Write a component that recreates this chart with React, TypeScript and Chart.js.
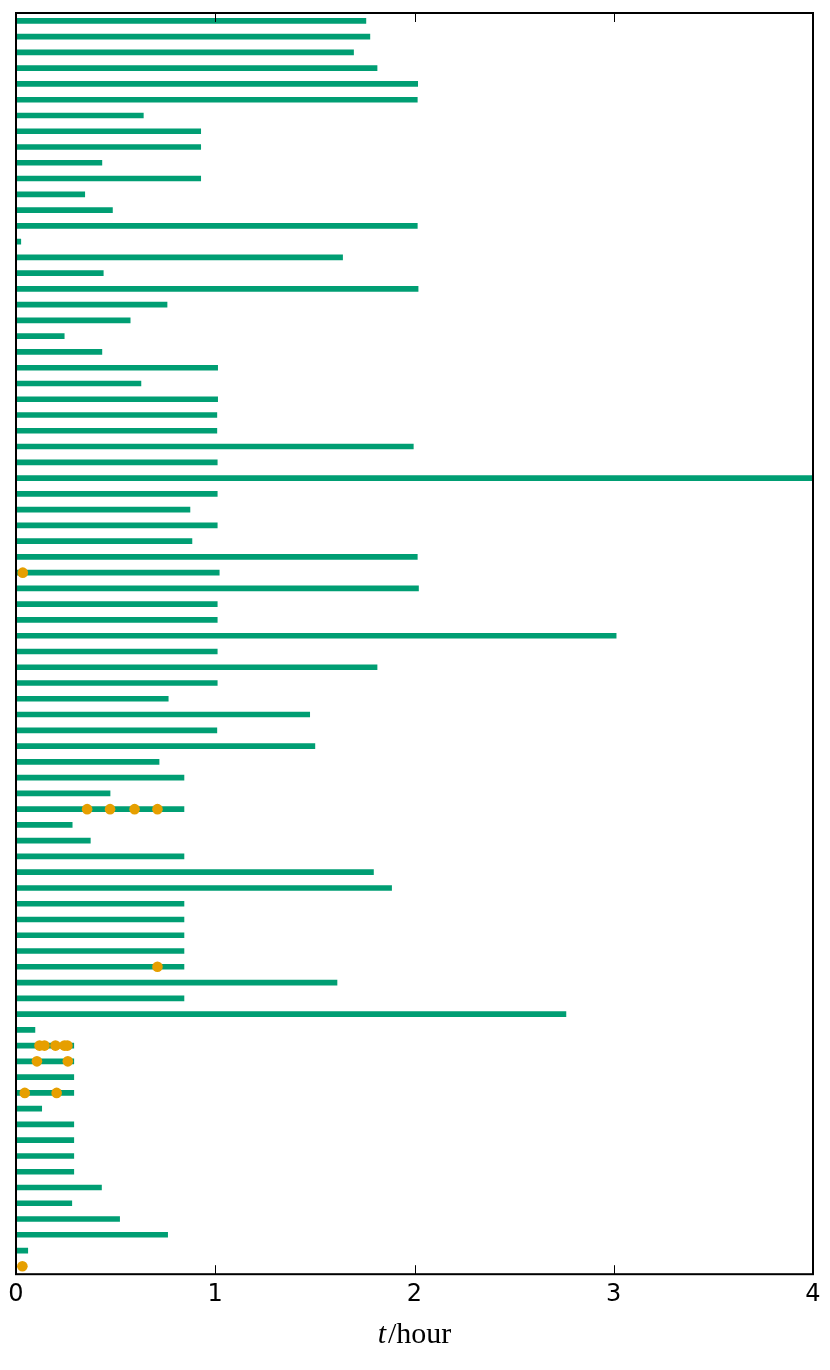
import { useEffect, useRef } from "react";
import { Chart, registerables } from "chart.js";

Chart.register(...registerables);

// Duration of each row (hours), top row first
const durations = [
  1.756, 1.776, 1.694, 1.812, 2.016, 2.014, 0.639,
  0.927, 0.927, 0.431, 0.927, 0.345, 0.484, 2.014,
  0.024, 1.639, 0.438, 2.018, 0.758, 0.573, 0.242,
  0.431, 1.012, 0.627, 1.012, 1.008, 1.008, 1.994,
  1.01, 4.0, 1.01, 0.873, 1.01, 0.883, 2.014,
  1.02, 2.02, 1.01, 1.01, 3.012, 1.01, 1.812,
  1.01, 0.764, 1.474, 1.008, 1.5, 0.718, 0.843,
  0.472, 0.843, 0.282, 0.373, 0.843, 1.794, 1.885,
  0.843, 0.843, 0.843, 0.843, 0.843, 1.611, 0.843,
  2.76, 0.095, 0.29, 0.29, 0.29, 0.29, 0.129,
  0.29, 0.29, 0.29, 0.29, 0.429, 0.28, 0.52,
  0.761, 0.059, 0,
];

// Events (orange dots): row index and time (hours)
const eventRows = [35, 50, 50, 50, 50, 60, 65, 65, 65, 65, 65, 66, 66, 68, 68, 79];
const eventTimes = [
  0.034, 0.357, 0.472, 0.595, 0.71, 0.71, 0.118, 0.143, 0.198, 0.243, 0.258,
  0.105, 0.26, 0.044, 0.204, 0.032,
];

const xTicks = [0, 1, 2, 3, 4];
const titleItalic = "t";
const titleRest = "/hour";

const W = 830;
const H = 1370;

export default function App() {
  const ref = useRef<HTMLCanvasElement>(null);

  useEffect(() => {
    if (!ref.current) return;

    const framePlugin = {
      id: "frame",
      afterDraw(chart: any) {
        const { ctx, chartArea: a, scales } = chart;
        const xs = scales.x;
        ctx.save();
        ctx.strokeStyle = "#000";
        ctx.lineWidth = 1;
        for (const t of xTicks) {
          const px = Math.round(xs.getPixelForValue(t)) + 0.5;
          ctx.beginPath();
          ctx.moveTo(px, a.bottom);
          ctx.lineTo(px, a.bottom - 9);
          ctx.moveTo(px, a.top);
          ctx.lineTo(px, a.top + 9);
          ctx.stroke();
        }
        ctx.lineWidth = 2;
        ctx.strokeRect(a.left, a.top, a.right - a.left, a.bottom - a.top);

        ctx.fillStyle = "#000";
        ctx.textBaseline = "alphabetic";
        const fi = "italic 30px 'Liberation Serif'";
        const fr = "30px 'Liberation Serif'";
        ctx.font = fi;
        const w1 = ctx.measureText(titleItalic).width;
        ctx.font = fr;
        const w2 = ctx.measureText(titleRest).width;
        const gap = 2;
        const cx = (a.left + a.right) / 2;
        const x0 = cx - (w1 + w2 + gap) / 2;
        const y = 1343;
        ctx.font = fi;
        ctx.fillText(titleItalic, x0, y);
        ctx.font = fr;
        ctx.fillText(titleRest, x0 + w1 + gap, y);
        ctx.restore();
      },
    };

    const chart = new Chart(ref.current, {
      type: "bar",
      data: {
        datasets: [
          {
            type: "scatter",
            data: eventTimes.map((t, i) => ({ x: t, y: eventRows[i] })),
            backgroundColor: "#E69F00",
            borderWidth: 0,
            pointRadius: 5.3,
            pointHoverRadius: 5.3,
          } as any,
          {
            type: "bar",
            indexAxis: "y",
            data: durations.map((v, i) => ({ x: v, y: i })),
            backgroundColor: "#009E73",
            borderWidth: 0,
            barThickness: 5,
          } as any,
        ],
      },
      options: {
        animation: false,
        responsive: false,
        events: [],
        layout: { padding: { left: 16, right: 17, top: 13, bottom: 55 } },
        plugins: { legend: { display: false }, tooltip: { enabled: false } },
        scales: {
          x: {
            type: "linear",
            min: 0,
            max: 4,
            offset: false,
            grid: { display: false, drawTicks: false, offset: false },
            border: { display: false },
            ticks: {
              stepSize: 1,
              padding: 6,
              color: "#000",
              font: { family: "'DejaVu Sans'", size: 24 },
            },
          },
          y: {
            type: "linear",
            min: -0.5,
            max: 79.5,
            reverse: true,
            offset: false,
            grid: { offset: false },
            display: false,
          },
        },
      },
      plugins: [framePlugin],
    });

    return () => chart.destroy();
  }, []);

  return (
    <div style={{ position: "fixed", left: 0, top: 0, width: W, height: H, background: "#fff" }}>
      <canvas ref={ref} width={W} height={H} style={{ display: "block" }} />
    </div>
  );
}
